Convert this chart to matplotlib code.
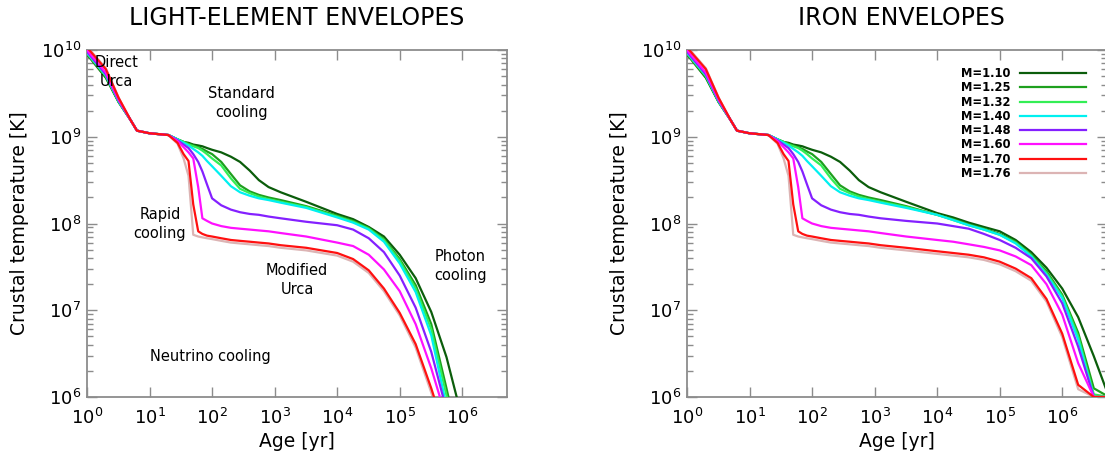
import numpy as np
import matplotlib
matplotlib.use("Agg")
import matplotlib.pyplot as plt
from matplotlib.ticker import LogLocator, NullLocator, NullFormatter

# age grid [yr]
age = [1, 2, 3.2, 5, 6.3, 10, 20, 28, 35, 42, 50, 60, 70, 83, 100, 140, 200,
       280, 400, 560, 800, 1.25e3, 3.2e3, 1e4, 1.8e4, 3.2e4, 5.6e4, 1e5, 1.8e5,
       3.2e5, 5.6e5, 1e6, 1.8e6, 3.2e6, 5.6e6]

masses = ['M=1.10', 'M=1.25', 'M=1.32', 'M=1.40', 'M=1.48', 'M=1.60', 'M=1.70', 'M=1.76']
colors = ['#0b5d0b', '#1ea01e', '#33ee55', '#00f0f0', '#8420ff', '#ff10ff', '#ff1010', '#dcb4b4']

nan = np.nan
# log10 crustal temperature, light-element envelopes
light_110 = [9.95, 9.68, 9.40, 9.19, 9.07, 9.04, 9.02, 8.97, 8.94, 8.93, 8.91, 8.90, 8.89, 8.87, 8.85,
             8.82, 8.77, 8.71, 8.61, 8.50, 8.42, 8.36, 8.25, 8.11, 8.05, 7.96, 7.85, 7.64, 7.37, 6.98,
             6.46, 5.75, nan, nan, nan]
light_125 = [9.96, 9.69, 9.40, 9.19, 9.07, 9.04, 9.02, 8.97, 8.94, 8.92, 8.90, 8.88, 8.86, 8.83, 8.80,
             8.71, 8.57, 8.44, 8.37, 8.33, 8.30, 8.27, 8.20, 8.09, 8.03, 7.95, 7.82, 7.59, 7.29, 6.84,
             6.10, 5.30, nan, nan, nan]
light_132 = [9.96, 9.70, 9.41, 9.19, 9.07, 9.04, 9.02, 8.97, 8.94, 8.91, 8.89, 8.87, 8.84, 8.80, 8.75,
             8.67, 8.52, 8.40, 8.35, 8.31, 8.28, 8.25, 8.19, 8.08, 8.02, 7.94, 7.81, 7.57, 7.25, 6.78,
             6.02, 5.20, nan, nan, nan]
light_140 = [9.97, 9.71, 9.41, 9.19, 9.07, 9.04, 9.02, 8.97, 8.93, 8.90, 8.86, 8.82, 8.78, 8.72, 8.66,
             8.55, 8.43, 8.36, 8.32, 8.29, 8.27, 8.24, 8.18, 8.07, 8.01, 7.93, 7.79, 7.54, 7.21, 6.71,
             5.90, 5.10, nan, nan, nan]
light_148 = [9.98, 9.72, 9.42, 9.19, 9.07, 9.04, 9.02, 8.96, 8.91, 8.87, 8.80, 8.71, 8.60, 8.45, 8.29,
             8.21, 8.16, 8.13, 8.11, 8.10, 8.08, 8.06, 8.02, 7.98, 7.93, 7.83, 7.67, 7.40, 7.03, 6.52,
             5.85, nan, nan, nan, nan]
light_160 = [10.0, 9.74, 9.43, 9.19, 9.07, 9.04, 9.02, 8.95, 8.88, 8.82, 8.75, 8.42, 8.06, 8.03, 8.00,
             7.97, 7.95, 7.94, 7.93, 7.92, 7.91, 7.89, 7.85, 7.78, 7.74, 7.64, 7.47, 7.22, 6.84, 6.33,
             5.75, nan, nan, nan, nan]
light_170 = [10.03, 9.78, 9.45, 9.19, 9.07, 9.04, 9.02, 8.93, 8.80, 8.72, 8.22, 7.91, 7.88, 7.86, 7.85,
             7.83, 7.81, 7.80, 7.79, 7.78, 7.77, 7.75, 7.72, 7.66, 7.59, 7.46, 7.25, 6.97, 6.61, 6.10,
             5.55, nan, nan, nan, nan]
light_176 = [10.04, 9.79, 9.45, 9.19, 9.07, 9.04, 9.02, 8.92, 8.75, 8.55, 7.87, 7.85, 7.84, 7.83, 7.82,
             7.80, 7.78, 7.77, 7.76, 7.75, 7.74, 7.72, 7.69, 7.63, 7.56, 7.43, 7.22, 6.94, 6.57, 6.05,
             5.50, nan, nan, nan, nan]

# iron envelopes: same as light-element up to ~1e3 yr, late part below
iron_110 = light_110[:22] + [8.25, 8.12, 8.07, 8.01, 7.96, 7.91, 7.81, 7.67, 7.49, 7.25, 6.92, 6.47, 5.95]
iron_125 = light_125[:22] + [8.20, 8.10, 8.05, 7.99, 7.94, 7.88, 7.79, 7.64, 7.45, 7.18, 6.74, 6.10, 5.50]
iron_132 = light_132[:22] + [8.19, 8.10, 8.04, 7.98, 7.93, 7.87, 7.78, 7.63, 7.43, 7.16, 6.70, 6.03, 5.50]
iron_140 = light_140[:22] + [8.18, 8.10, 8.04, 7.98, 7.93, 7.87, 7.77, 7.62, 7.41, 7.14, 6.66, 5.98, 5.50]
iron_148 = light_148[:22] + [8.03, 8.00, 7.97, 7.94, 7.88, 7.81, 7.72, 7.60, 7.39, 7.08, 6.58, 5.85, 5.40]
iron_160 = light_160[:22] + [7.85, 7.81, 7.79, 7.76, 7.73, 7.69, 7.62, 7.52, 7.30, 6.95, 6.39, 5.70, 5.30]
iron_170 = light_170[:22] + [7.72, 7.68, 7.66, 7.64, 7.61, 7.56, 7.48, 7.37, 7.13, 6.73, 6.14, 5.50, 5.20]
iron_176 = light_176[:22] + [7.69, 7.65, 7.63, 7.61, 7.58, 7.53, 7.45, 7.34, 7.10, 6.69, 6.09, 5.45, 5.20]

light = [light_110, light_125, light_132, light_140, light_148, light_160, light_170, light_176]
iron = [iron_110, iron_125, iron_132, iron_140, iron_148, iron_160, iron_170, iron_176]

plt.rcParams['font.family'] = 'DejaVu Sans'
plt.rcParams['mathtext.fontset'] = 'dejavusans'

fig = plt.figure(figsize=(11.05, 4.57), dpi=100)
W, H = 1105.0, 457.0
ax1 = fig.add_axes([87 / W, 60 / H, 420 / W, 347 / H])
ax2 = fig.add_axes([687 / W, 60 / H, 420 / W, 347 / H])


def style(ax):
    ax.set_xscale('log')
    ax.set_yscale('log')
    ax.set_xlim(1, 5.2e6)
    ax.set_ylim(1e6, 1e10)
    ax.set_xticks([10.0 ** k for k in range(7)])
    ax.set_xticklabels(['$10^{%d}$' % k for k in range(7)])
    ax.xaxis.set_minor_locator(NullLocator())
    ax.set_yticks([10.0 ** k for k in range(6, 11)])
    ax.set_yticklabels(['$10^{%d}$' % k for k in range(6, 11)])
    ax.yaxis.set_minor_locator(LogLocator(base=10, subs=range(2, 10), numticks=20))
    ax.yaxis.set_minor_formatter(NullFormatter())
    ax.tick_params(which='both', direction='in', top=True, right=True, color='#8c8c8c')
    ax.tick_params(which='major', length=7, width=1, labelsize=13)
    ax.tick_params(which='minor', length=4, width=1)
    ax.tick_params(axis='x', pad=8)
    ax.tick_params(axis='y', pad=4)
    for s in ax.spines.values():
        s.set_color('#8c8c8c')
        s.set_linewidth(1.3)
    ax.set_xlabel('Age [yr]', fontsize=13.5)
    ax.set_ylabel('Crustal temperature [K]', fontsize=13.5)
    ax.xaxis.set_label_coords(0.5, -0.10)
    ax.yaxis.set_label_coords(-0.138, 0.5)


for i in range(8):
    z = 2 if i == 7 else 3
    ax1.plot(age, 10 ** np.array(light[i]), color=colors[i], lw=1.6, zorder=z, label=masses[i])
    # iron models hit the plot floor and run along it
    ax2.plot(age, 10 ** np.maximum(np.array(iron[i]), 6.0), color=colors[i], lw=1.6, zorder=z,
             label=masses[i])

style(ax1)
style(ax2)

# regime labels
kw = dict(ha='center', va='center', fontsize=10.5, linespacing=1.35)
ax1.text(3.0, 5.6e9, 'Direct\nUrca', **kw)
ax1.text(300, 2.45e9, 'Standard\ncooling', **kw)
ax1.text(14.7, 9.8e7, 'Rapid\ncooling', **kw)
ax1.text(2300, 2.24e7, 'Modified\nUrca', **kw)
ax1.text(9.3e5, 3.24e7, 'Photon\ncooling', **kw)
ax1.text(93, 2.9e6, 'Neutrino cooling', **kw)

ax2.legend(loc='upper right', bbox_to_anchor=(1086 / W, 1 - 67 / H), bbox_transform=fig.transFigure,
           markerfirst=False, frameon=False, prop={'size': 8.3, 'weight': 'bold'},
           handlelength=5.7, handletextpad=0.85, labelspacing=0.11, borderpad=0, borderaxespad=0)

fig.text(297 / W, 1 - 18 / H, 'LIGHT-ELEMENT ENVELOPES', ha='center', va='center', fontsize=17)
fig.text(901 / W, 1 - 18 / H, 'IRON ENVELOPES', ha='center', va='center', fontsize=17)

fig.savefig('out.png', dpi=100)
